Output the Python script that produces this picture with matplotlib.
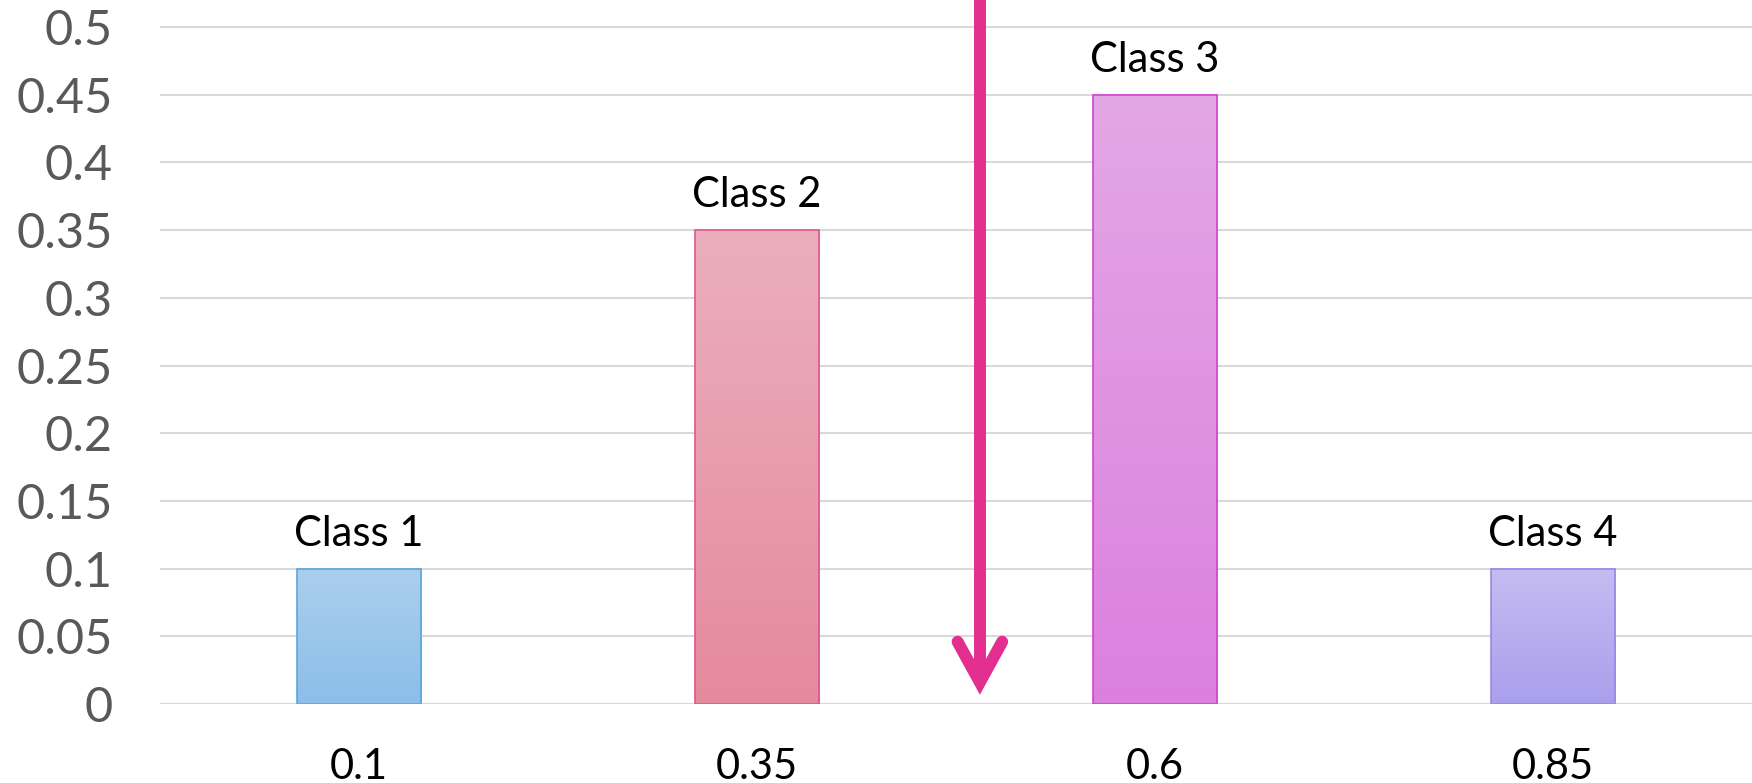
import matplotlib.pyplot as plt
import numpy as np
from matplotlib.colors import LinearSegmentedColormap

# Datos del grafico
clases = ['Class 1', 'Class 2', 'Class 3', 'Class 4']
etiquetas_x = ['0.1', '0.35', '0.6', '0.85']
valores = [0.1, 0.35, 0.45, 0.1]
yticks = [0, 0.05, 0.1, 0.15, 0.2, 0.25, 0.3, 0.35, 0.4, 0.45, 0.5]
umbral_x = 1.56  # posicion de la flecha (en unidades de categoria)

# Colores: (arriba, abajo, borde)
colores = [
    ('#abcfee', '#8bbee8', '#5aa7df'),
    ('#ebafbc', '#e58a9d', '#e0568c'),
    ('#e4a7e5', '#db80df', '#cf45d2'),
    ('#c6bcf1', '#aa9fec', '#9a87e7'),
]
color_flecha = '#e22f8f'

plt.rcParams['font.family'] = ['Lato', 'DejaVu Sans']

fig = plt.figure(figsize=(17.52, 7.83), dpi=100)
ax = fig.add_axes([160 / 1752, 79 / 783, 1 - 160 / 1752, 704 / 783])

x = np.arange(len(clases))
barras = ax.bar(x, valores, width=0.314, color='none', zorder=3)

# Relleno degradado de cada barra
for barra, (c_top, c_bot, c_edge) in zip(barras, colores):
    bx, by = barra.get_x(), barra.get_y()
    bw, bh = barra.get_width(), barra.get_height()
    cmap = LinearSegmentedColormap.from_list('g', [c_bot, c_top])
    grad = np.linspace(0, 1, 256).reshape(-1, 1)
    ax.imshow(grad, cmap=cmap, origin='lower', aspect='auto',
              extent=(bx, bx + bw, by, by + bh), zorder=3)
    ax.add_patch(plt.Rectangle((bx, by), bw, bh, fill=False,
                               edgecolor=c_edge, linewidth=1.2, zorder=4))

# Nombre de clase sobre cada barra
for xi, v, nombre in zip(x, valores, clases):
    ax.annotate(nombre, (xi, v), xytext=(0, 16.5), textcoords='offset points',
                ha='center', va='baseline', fontsize=30, color='black')

# Flecha vertical
ax.plot([umbral_x, umbral_x], [0.6, 0.02], color=color_flecha, lw=8.6,
        solid_capstyle='butt', zorder=5)
dx = 0.056
ax.plot([umbral_x - dx, umbral_x, umbral_x + dx], [0.046, 0.016, 0.046],
        color=color_flecha, lw=8.6, solid_capstyle='round',
        solid_joinstyle='miter', zorder=5)

ax.set_xlim(-0.5, len(clases) - 0.5)
ax.set_ylim(0, 0.52)
ax.set_xticks(x)
ax.set_xticklabels(etiquetas_x, fontsize=30, color='black')
ax.set_yticks(yticks)
ax.set_yticklabels([f'{t:g}' for t in yticks], fontsize=35, color='#595959')
ax.tick_params(axis='both', length=0)
ax.tick_params(axis='y', pad=34)
ax.tick_params(axis='x', pad=32)
ax.yaxis.grid(True, color='#d9d9d9', linewidth=1.5, zorder=0)
ax.set_axisbelow(True)
for s in ax.spines.values():
    s.set_visible(False)

fig.savefig('out.png', dpi=100)
